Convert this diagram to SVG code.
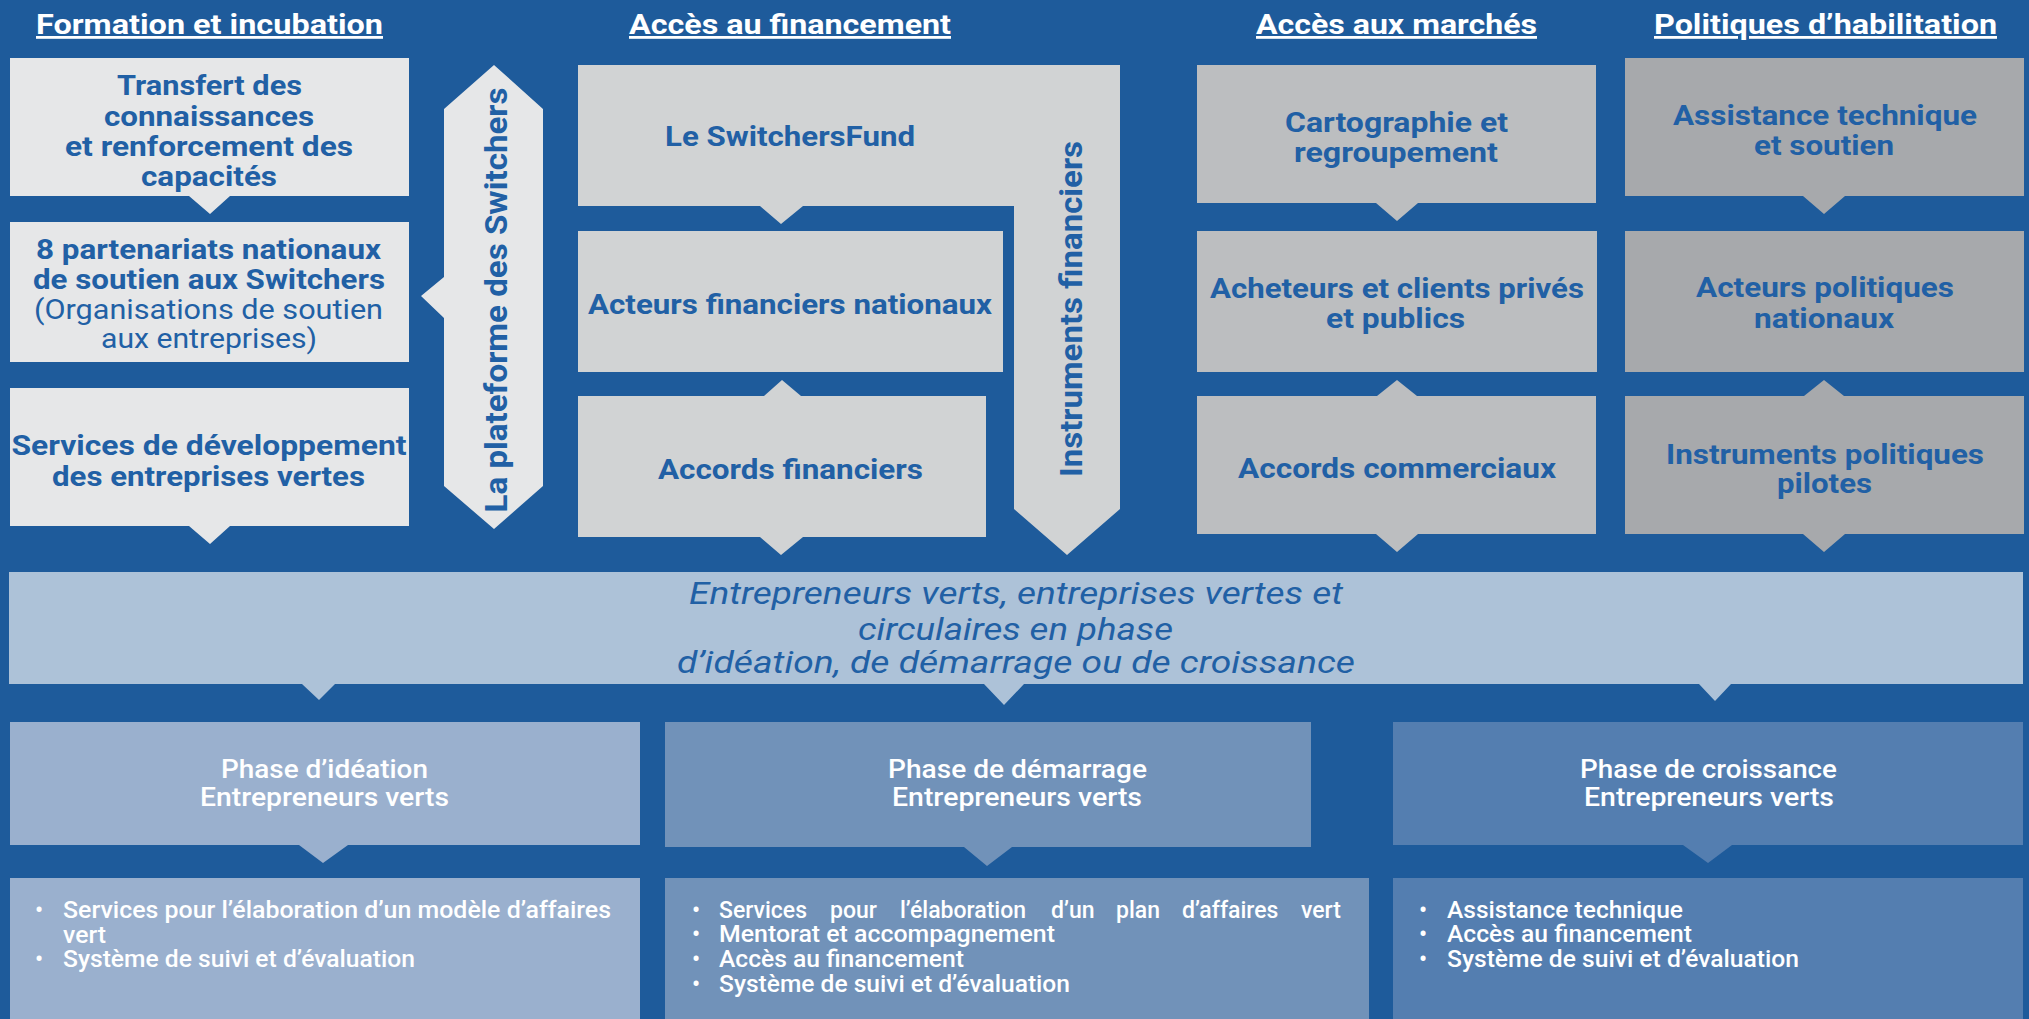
<svg xmlns="http://www.w3.org/2000/svg" width="2029" height="1019" viewBox="0 0 2029 1019">
<style>
text{font-family:Roboto,"Liberation Sans",sans-serif}
.t{fill:#ffffff;font-size:28px;font-weight:700;text-decoration:underline;text-anchor:middle}
.b{fill:#2160a5;font-size:28px;font-weight:700;text-anchor:middle}
.r{fill:#2160a5;font-size:28px;font-weight:400;text-anchor:middle}
.v{fill:#2160a5;font-size:32px;font-weight:700;text-anchor:middle}
.it{fill:#2160a5;font-size:31px;font-weight:400;font-style:italic;text-anchor:middle}
.ph{fill:#ffffff;font-size:25px;font-weight:500;text-anchor:middle}
.bl{fill:#ffffff;font-size:23px;font-weight:500}
.c1{fill:#e6e7e8}.c2{fill:#d1d3d4}.c3{fill:#bcbec0}.c4{fill:#a7a9ac}
.band{fill:#adc2d8}.p1{fill:#9ab0ce}.p2{fill:#7192b9}.p3{fill:#547eb0}
</style>
<rect x="0" y="0" width="2029" height="1019" fill="#1e5b9b"/>

<g id="titles">
<text class="t" x="209.5" y="34" textLength="347" lengthAdjust="spacingAndGlyphs">Formation et incubation</text>
<text class="t" x="790" y="34" textLength="322" lengthAdjust="spacingAndGlyphs">Accès au financement</text>
<text class="t" x="1396.5" y="34" textLength="281" lengthAdjust="spacingAndGlyphs">Accès aux marchés</text>
<text class="t" x="1825.5" y="34" textLength="343" lengthAdjust="spacingAndGlyphs">Politiques d’habilitation</text>
</g>

<g id="transfert">
<path class="c1" d="M10,58H409V196H230L210,214L189,196H10Z"/>
<text class="b" x="209.5" y="95" textLength="185" lengthAdjust="spacingAndGlyphs">Transfert des</text>
<text class="b" x="209" y="126" textLength="210" lengthAdjust="spacingAndGlyphs">connaissances</text>
<text class="b" x="209" y="156" textLength="288" lengthAdjust="spacingAndGlyphs">et renforcement des</text>
<text class="b" x="209" y="186" textLength="136" lengthAdjust="spacingAndGlyphs">capacités</text>
</g>

<g id="partenariats">
<rect class="c1" x="10" y="222" width="399" height="140"/>
<text class="b" x="208.5" y="259" textLength="345" lengthAdjust="spacingAndGlyphs">8 partenariats nationaux</text>
<text class="b" x="209" y="289" textLength="352" lengthAdjust="spacingAndGlyphs">de soutien aux Switchers</text>
<text class="r" x="208.5" y="319" textLength="349" lengthAdjust="spacingAndGlyphs">(Organisations de soutien</text>
<text class="r" x="209" y="348" textLength="216" lengthAdjust="spacingAndGlyphs">aux entreprises)</text>
</g>

<g id="services">
<path class="c1" d="M10,388H409V526H230L210,544L189,526H10Z"/>
<text class="b" x="209" y="455" textLength="395" lengthAdjust="spacingAndGlyphs">Services de développement</text>
<text class="b" x="208.5" y="486" textLength="313" lengthAdjust="spacingAndGlyphs">des entreprises vertes</text>
</g>

<g id="plateforme">
<path class="c1" d="M494,65L543,109V486L494,529L444,486V318L421,296L444,277V109Z"/>
<text class="v" transform="translate(507,300) rotate(-90)" x="0" y="0" textLength="425" lengthAdjust="spacingAndGlyphs">La plateforme des Switchers</text>
</g>

<g id="switchersfund">
<path class="c2" d="M578,65H1120V509L1067,555L1014,509V206H803L781,224L760,206H578Z"/>
<text class="b" x="790" y="146" textLength="250" lengthAdjust="spacingAndGlyphs">Le SwitchersFund</text>
<text class="v" transform="translate(1082,309) rotate(-90)" x="0" y="0" textLength="336" lengthAdjust="spacingAndGlyphs">Instruments financiers</text>
</g>

<g id="acteurs-financiers">
<rect class="c2" x="578" y="231" width="425" height="141"/>
<text class="b" x="790" y="314" textLength="404" lengthAdjust="spacingAndGlyphs">Acteurs financiers nationaux</text>
</g>

<g id="accords-financiers">
<path class="c2" d="M578,396H764L782,380L801,396H986V537H803L781,555L760,537H578Z"/>
<text class="b" x="790.5" y="479" textLength="265" lengthAdjust="spacingAndGlyphs">Accords financiers</text>
</g>

<g id="cartographie">
<path class="c3" d="M1197,65H1596V203H1418L1397,221L1376,203H1197Z"/>
<text class="b" x="1396.5" y="132" textLength="223" lengthAdjust="spacingAndGlyphs">Cartographie et</text>
<text class="b" x="1396" y="162" textLength="204" lengthAdjust="spacingAndGlyphs">regroupement</text>
</g>

<g id="acheteurs">
<rect class="c3" x="1197" y="231" width="400" height="141"/>
<text class="b" x="1397" y="298" textLength="374" lengthAdjust="spacingAndGlyphs">Acheteurs et clients privés</text>
<text class="b" x="1395.5" y="328" textLength="139" lengthAdjust="spacingAndGlyphs">et publics</text>
</g>

<g id="accords-commerciaux">
<path class="c3" d="M1197,396H1377L1397,380L1417,396H1596V534H1418L1397,552L1376,534H1197Z"/>
<text class="b" x="1397" y="478" textLength="318" lengthAdjust="spacingAndGlyphs">Accords commerciaux</text>
</g>

<g id="assistance">
<path class="c4" d="M1625,58H2024V196H1845L1824,214L1803,196H1625Z"/>
<text class="b" x="1825" y="125" textLength="304" lengthAdjust="spacingAndGlyphs">Assistance technique</text>
<text class="b" x="1824" y="155" textLength="140" lengthAdjust="spacingAndGlyphs">et soutien</text>
</g>

<g id="acteurs-politiques">
<rect class="c4" x="1625" y="231" width="399" height="141"/>
<text class="b" x="1825" y="297" textLength="258" lengthAdjust="spacingAndGlyphs">Acteurs politiques</text>
<text class="b" x="1824" y="328" textLength="140" lengthAdjust="spacingAndGlyphs">nationaux</text>
</g>

<g id="instruments-politiques">
<path class="c4" d="M1625,396H1804L1824,380L1844,396H2024V534H1845L1824,552L1803,534H1625Z"/>
<text class="b" x="1825" y="464" textLength="318" lengthAdjust="spacingAndGlyphs">Instruments politiques</text>
<text class="b" x="1824.5" y="493" textLength="95" lengthAdjust="spacingAndGlyphs">pilotes</text>
</g>

<g id="entrepreneurs">
<path class="band" d="M9,572H2023V684H1731L1715,701L1699,684H1024L1004,705L984,684H335L319,700L302,684H9Z"/>
<text class="it" x="1016" y="604" textLength="654" lengthAdjust="spacingAndGlyphs">Entrepreneurs verts, entreprises vertes et</text>
<text class="it" x="1015.5" y="640" textLength="315" lengthAdjust="spacingAndGlyphs">circulaires en phase</text>
<text class="it" x="1016" y="673" textLength="678" lengthAdjust="spacingAndGlyphs">d’idéation, de démarrage ou de croissance</text>
</g>

<g id="phase-ideation">
<path class="p1" d="M10,722H640V845H348L323,863L299,845H10Z"/>
<text class="ph" x="324.5" y="778" textLength="207" lengthAdjust="spacingAndGlyphs">Phase d’idéation</text>
<text class="ph" x="324.5" y="806" textLength="249" lengthAdjust="spacingAndGlyphs">Entrepreneurs verts</text>
</g>

<g id="phase-demarrage">
<path class="p2" d="M665,722H1311V847H1012L987,866L964,847H665Z"/>
<text class="ph" x="1017.5" y="778" textLength="259" lengthAdjust="spacingAndGlyphs">Phase de démarrage</text>
<text class="ph" x="1017" y="806" textLength="250" lengthAdjust="spacingAndGlyphs">Entrepreneurs verts</text>
</g>

<g id="phase-croissance">
<path class="p3" d="M1393,722H2023V845H1732L1708,863L1683,845H1393Z"/>
<text class="ph" x="1708.5" y="778" textLength="257" lengthAdjust="spacingAndGlyphs">Phase de croissance</text>
<text class="ph" x="1709" y="806" textLength="250" lengthAdjust="spacingAndGlyphs">Entrepreneurs verts</text>
</g>

<g id="services-ideation">
<rect class="p1" x="10" y="878" width="630" height="141"/>
<text class="bl" x="35" y="918">•</text>
<text class="bl" x="63" y="918" textLength="548" lengthAdjust="spacingAndGlyphs">Services pour l’élaboration d’un modèle d’affaires</text>
<text class="bl" x="63" y="943" textLength="43" lengthAdjust="spacingAndGlyphs">vert</text>
<text class="bl" x="35" y="967">•</text>
<text class="bl" x="63" y="967" textLength="352" lengthAdjust="spacingAndGlyphs">Système de suivi et d’évaluation</text>
</g>

<g id="services-demarrage">
<rect class="p2" x="665" y="878" width="704" height="141"/>
<text class="bl" x="692" y="918">•</text>
<text class="bl" y="918"><tspan x="719">Services</tspan><tspan x="830">pour</tspan><tspan x="900">l’élaboration</tspan><tspan x="1051">d’un</tspan><tspan x="1116">plan</tspan><tspan x="1182">d’affaires</tspan><tspan x="1301">vert</tspan></text>
<text class="bl" x="692" y="942">•</text>
<text class="bl" x="719" y="942" textLength="336" lengthAdjust="spacingAndGlyphs">Mentorat et accompagnement</text>
<text class="bl" x="692" y="967">•</text>
<text class="bl" x="719" y="967" textLength="245" lengthAdjust="spacingAndGlyphs">Accès au financement</text>
<text class="bl" x="692" y="992">•</text>
<text class="bl" x="719" y="992" textLength="351" lengthAdjust="spacingAndGlyphs">Système de suivi et d’évaluation</text>
</g>

<g id="services-croissance">
<rect class="p3" x="1393" y="878" width="630" height="141"/>
<text class="bl" x="1419" y="918">•</text>
<text class="bl" x="1447" y="918" textLength="236" lengthAdjust="spacingAndGlyphs">Assistance technique</text>
<text class="bl" x="1419" y="942">•</text>
<text class="bl" x="1447" y="942" textLength="245" lengthAdjust="spacingAndGlyphs">Accès au financement</text>
<text class="bl" x="1419" y="967">•</text>
<text class="bl" x="1447" y="967" textLength="352" lengthAdjust="spacingAndGlyphs">Système de suivi et d’évaluation</text>
</g>

<g id="connectors"></g>
</svg>
